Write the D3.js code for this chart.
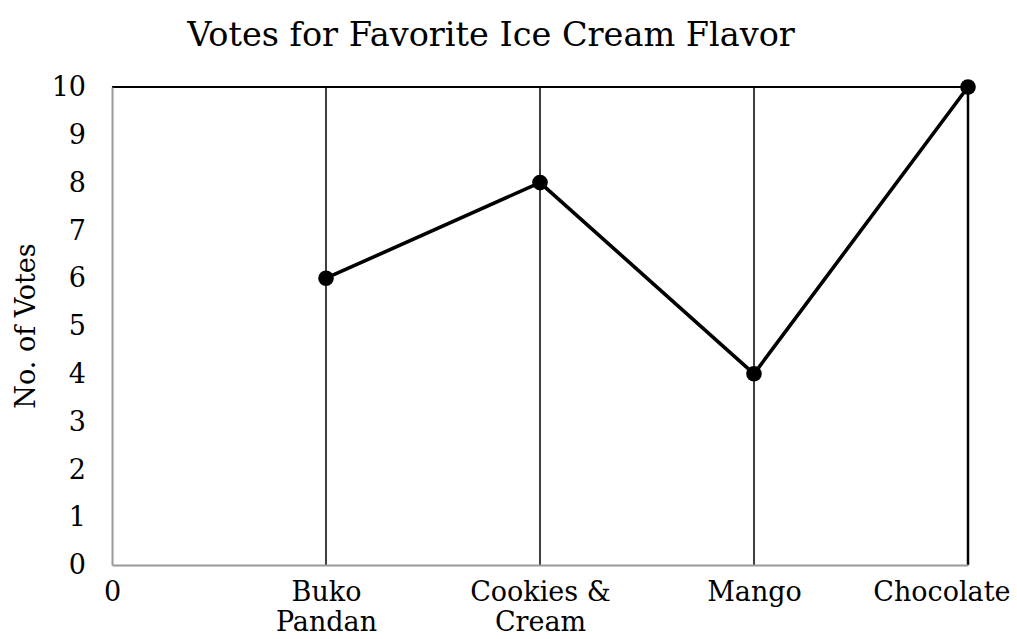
<!DOCTYPE html>
<html>
<head>
<meta charset="utf-8">
<script src="https://cdn.jsdelivr.net/npm/d3@7/dist/d3.min.js"></script>
<style>
  html, body { margin: 0; padding: 0; background: #fff; }
  svg { display: block; }
  text { font-family: "DejaVu Serif", serif; fill: #000; }
</style>
</head>
<body>
<svg id="chart" width="1017" height="639"></svg>
<script>
const categories = ["0", "Buko Pandan", "Cookies & Cream", "Mango", "Chocolate"];
const votes = [null, 6, 8, 4, 10];
const yTicks = [0, 1, 2, 3, 4, 5, 6, 7, 8, 9, 10];
const titleText = "Votes for Favorite Ice Cream Flavor";
const yTitle = "No. of Votes";

const W = 1017, H = 639;
const margin = { left: 112, right: 49, top: 87, bottom: 74 };
const svg = d3.select("#chart");

const x = d3.scalePoint().domain(categories).range([margin.left, W - margin.right]);
const y = d3.scaleLinear().domain([0, 10]).range([H - margin.bottom, margin.top]);

// vertical gridlines at categories (skip the first, which is the axis)
svg.append("g").selectAll("line")
  .data(categories.slice(1))
  .join("line")
  .attr("x1", d => x(d)).attr("x2", d => x(d))
  .attr("y1", y(0)).attr("y2", y(10))
  .attr("stroke", "#000")
  .attr("stroke-width", (d, i, arr) => i === arr.length - 1 ? 2.5 : 1.5);

// top gridline at max
svg.append("line")
  .attr("x1", x(categories[0])).attr("x2", x(categories[categories.length - 1]))
  .attr("y1", y(10)).attr("y2", y(10))
  .attr("stroke", "#000").attr("stroke-width", 2);

// y axis
const yAxis = svg.append("g")
  .attr("transform", `translate(${margin.left},0)`)
  .call(d3.axisLeft(y).tickValues(yTicks).tickFormat(d3.format("d")).tickSize(0).tickPadding(26));
yAxis.select(".domain").attr("stroke", "#9a9a9a").attr("stroke-width", 2);
yAxis.selectAll("text").attr("font-size", 27).style("font-family", "DejaVu Serif");

// x axis
const xAxis = svg.append("g")
  .attr("transform", `translate(0,${y(0)})`)
  .call(d3.axisBottom(x).tickSize(0).tickPadding(17));
xAxis.select(".domain").attr("stroke", "#9a9a9a").attr("stroke-width", 2);
xAxis.selectAll("text")
  .attr("font-size", 27).style("font-family", "DejaVu Serif")
  .each(function(d, i, nodes) {
    const t = d3.select(this);
    if (i === nodes.length - 1) {
      t.attr("text-anchor", "end").attr("x", 1010 - x(d));
    }
    let lines = [d];
    if (d === "Buko Pandan") lines = ["Buko", "Pandan"];
    if (d === "Cookies & Cream") lines = ["Cookies &", "Cream"];
    if (lines.length > 1) {
      const y0 = t.attr("y");
      t.text(null);
      lines.forEach((ln, k) => {
        t.append("tspan").attr("x", 0).attr("y", y0)
          .attr("dy", (0.71 + k * 1.1) + "em").text(ln);
      });
    }
  });

// line
const pts = categories.map((c, i) => ({ c, v: votes[i] })).filter(d => d.v !== null);
svg.append("path")
  .datum(pts)
  .attr("fill", "none")
  .attr("stroke", "#000")
  .attr("stroke-width", 3.6)
  .attr("stroke-linejoin", "round")
  .attr("d", d3.line().x(d => x(d.c)).y(d => y(d.v)));

svg.append("g").selectAll("circle")
  .data(pts)
  .join("circle")
  .attr("cx", d => x(d.c)).attr("cy", d => y(d.v))
  .attr("r", 7.8).attr("fill", "#000");

// title
svg.append("text")
  .attr("x", 491).attr("y", 46)
  .attr("text-anchor", "middle")
  .attr("font-size", 33.5)
  .text(titleText);

// y title
svg.append("text")
  .attr("transform", `translate(35,${(y(0) + y(10)) / 2}) rotate(-90)`)
  .attr("text-anchor", "middle")
  .attr("font-size", 27)
  .text(yTitle);
</script>
</body>
</html>
